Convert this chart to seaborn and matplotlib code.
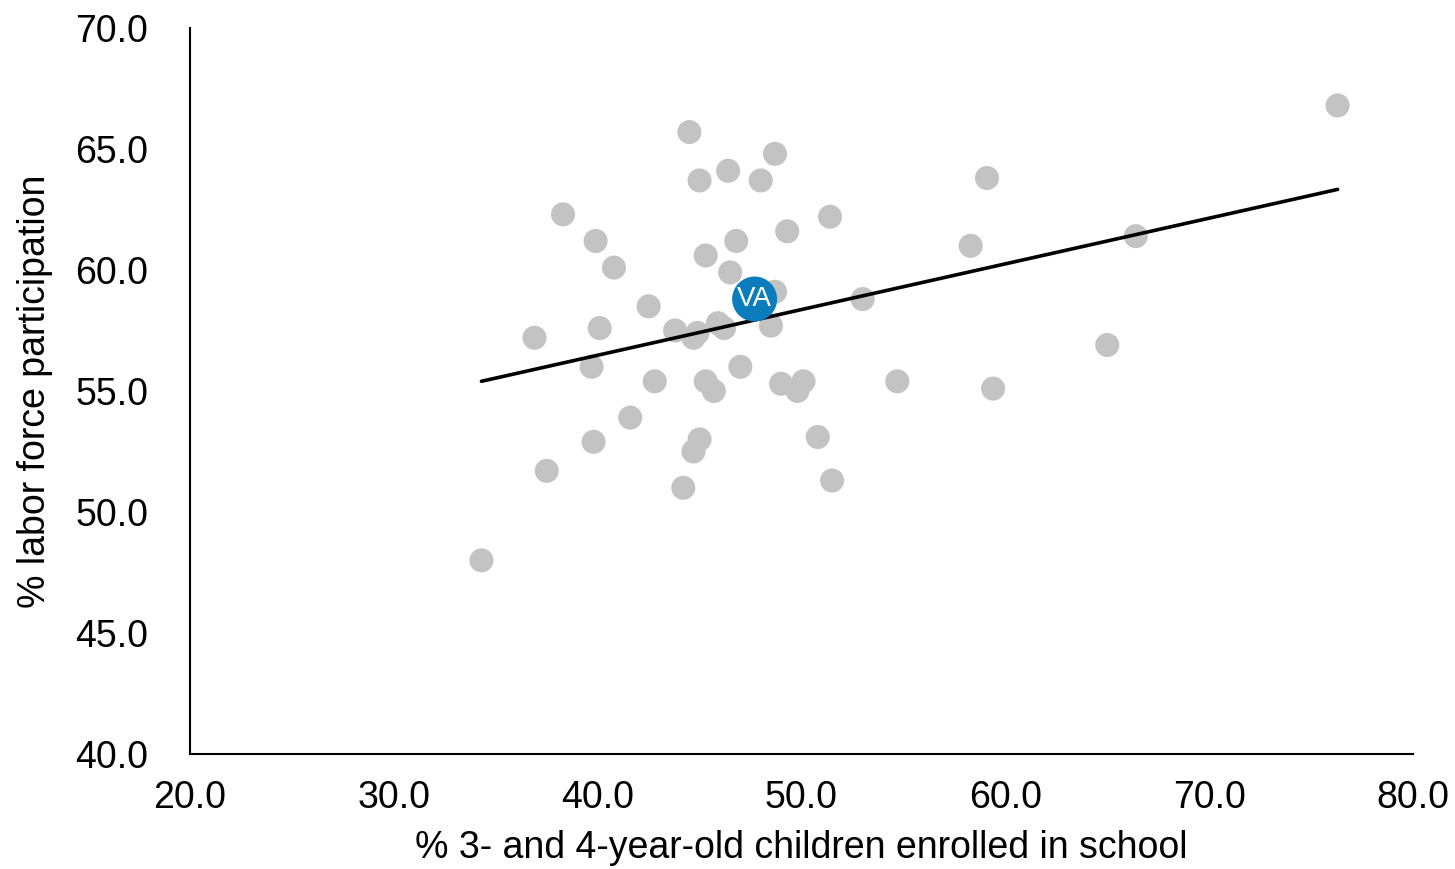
import numpy as np
import pandas as pd
import seaborn as sns
import matplotlib.pyplot as plt
from matplotlib.ticker import FormatStrFormatter

# % of 3-4 year olds enrolled vs labour force participation, one point per state
enrolled = [34.3, 36.9, 37.5, 38.3, 39.7, 39.8, 39.9, 40.1, 40.8, 41.6,
            42.5, 42.8, 43.8, 44.2, 44.5, 44.7, 44.9, 44.7, 45.0, 45.0,
            45.3, 45.3, 45.7, 45.9, 46.2, 46.4, 46.5, 46.8, 47.0, 48.0,
            48.7, 48.7, 48.5, 49.3, 49.0, 49.8, 50.1, 50.8, 51.4, 51.5,
            53.0, 54.7, 58.3, 59.1, 59.4, 65.0, 66.4, 76.3]
labor = [48.0, 57.2, 51.7, 62.3, 56.0, 52.9, 61.2, 57.6, 60.1, 53.9,
         58.5, 55.4, 57.5, 51.0, 65.7, 57.2, 57.4, 52.5, 63.7, 53.0,
         55.4, 60.6, 55.0, 57.8, 57.6, 64.1, 59.9, 61.2, 56.0, 63.7,
         64.8, 59.1, 57.7, 61.6, 55.3, 55.0, 55.4, 53.1, 62.2, 51.3,
         58.8, 55.4, 61.0, 63.8, 55.1, 56.9, 61.4, 66.8]
va_enrolled = 47.7
va_labor = 58.8

df = pd.DataFrame({"enrolled": enrolled + [va_enrolled], "labor": labor + [va_labor]})

sns.set_style("white")
plt.rcParams['font.family'] = ['Liberation Sans', 'DejaVu Sans']

fig = plt.figure(figsize=(14.55, 8.69), dpi=100)
ax = fig.add_axes([190/1455, 1 - 754/869, (1413-190)/1455, (754-28)/869])

sns.scatterplot(x=enrolled, y=labor, color="#C3C3C3", s=300, edgecolor="none", ax=ax, zorder=2)
sns.regplot(data=df, x="enrolled", y="labor", scatter=False, ci=None,
            line_kws={"color": "black", "lw": 2.6, "zorder": 3}, ax=ax)
ax.scatter([va_enrolled], [va_labor], s=1050, color="#0B7DBD", edgecolor="none", zorder=4)
ax.text(va_enrolled, va_labor, "VA", color="white", fontsize=20, ha="center", va="center", zorder=5)

ax.set_xlim(20, 80)
ax.set_ylim(40, 70)
ax.set_xticks(np.arange(20, 81, 10))
ax.set_yticks(np.arange(40, 71, 5))
ax.xaxis.set_major_formatter(FormatStrFormatter("%.1f"))
ax.yaxis.set_major_formatter(FormatStrFormatter("%.1f"))
ax.tick_params(labelsize=27, length=0, colors="black")
ax.tick_params(axis="y", pad=30)
ax.tick_params(axis="x", pad=19)
sns.despine(ax=ax)
for s in ["left", "bottom"]:
    ax.spines[s].set_color("black")
    ax.spines[s].set_linewidth(1.5)

ax.set_xlabel("% 3- and 4-year-old children enrolled in school", fontsize=27, labelpad=10, color="black")
ax.set_ylabel("% labor force participation", fontsize=27, labelpad=16, color="black")

fig.savefig("out.png", dpi=100)
